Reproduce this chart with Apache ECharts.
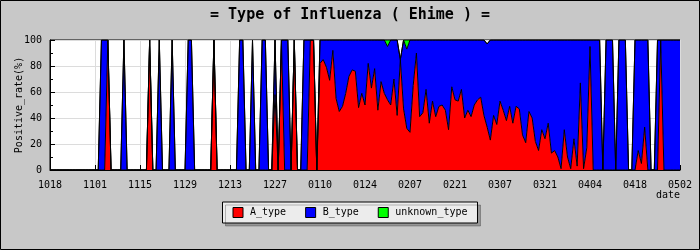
<!DOCTYPE html>
<html><head><meta charset="utf-8">
<script src="https://cdn.jsdelivr.net/npm/echarts@6/dist/echarts.min.js"></script>
<style>html,body{margin:0;padding:0;background:#c8c8c8}#c{width:700px;height:250px}</style>
</head><body><div id="c"></div>
<script>
// categories: one per day, 1018 .. 0502 (labels MMDD)
const startDay = Date.UTC(2010, 9, 18);
const dayCount = 197;
const dates = [];
for (let i = 0; i < dayCount; i++) {
  const d = new Date(startDay + i * 86400000);
  dates.push(String(d.getUTCMonth() + 1).padStart(2, '0') + String(d.getUTCDate()).padStart(2, '0'));
}
const yTicks = [0, 20, 40, 60, 80, 100];

const A_type = [
  0,0,0,0,0,0,0,0,0,0,0,0,0,0,
  0,0,0,0,100,0,0,0,0,0,0,0,0,0,
  0,0,0,100,0,0,0,0,0,0,0,0,0,0,
  0,0,0,0,0,0,0,0,0,100,0,0,0,0,
  0,0,0,0,0,0,0,0,0,0,0,0,0,0,
  58,0,100,0,0,0,100,0,0,0,0,100,100,0,
  82,85,79,69,92,55,45,49,59,72,77,76,48,59,
  50,82,63,78,46,68,59,54,50,70,42,85,47,32,
  29,65,90,41,44,62,36,53,41,49,50,46,31,64,
  54,53,62,40,46,41,50,54,56,42,33,23,42,35,
  53,46,38,49,36,49,47,27,21,45,40,22,15,31,
  24,36,13,15,10,1,31,10,1,24,3,67,1,17,
  95,0,0,0,0,0,0,0,0,0,0,0,0,0,
  0,15,5,33,0,0,0,0,100,0,0,0,0,0,
  0
];
const B_type = [
  0,0,0,0,0,0,0,0,0,0,0,0,0,0,
  0,0,100,100,0,0,0,0,0,100,0,0,0,0,
  0,0,0,0,0,0,100,0,0,0,100,0,0,0,
  0,100,100,0,0,0,0,0,0,0,0,0,0,0,
  0,0,0,100,100,0,0,100,0,0,100,100,0,0,
  42,0,0,100,100,0,0,0,0,100,100,0,0,0,
  18,15,21,31,8,45,55,51,41,28,23,24,52,41,
  50,18,37,22,54,32,41,41,50,30,58,0,53,61,
  71,35,10,59,56,38,64,47,59,51,50,54,69,36,
  46,47,38,60,54,59,50,46,44,58,64,77,58,65,
  47,54,62,51,64,51,53,73,79,55,60,78,85,69,
  76,64,87,85,90,99,69,90,99,76,97,33,99,83,
  5,100,100,100,0,100,100,100,0,100,100,100,0,0,
  100,85,95,67,100,0,0,100,0,100,100,100,100,100,
  100
];
const unknown_type = [
  0,0,0,0,0,0,0,0,0,0,0,0,0,0,
  0,0,0,0,0,0,0,0,0,0,0,0,0,0,
  0,0,0,0,0,0,0,0,0,0,0,0,0,0,
  0,0,0,0,0,0,0,0,0,0,0,0,0,0,
  0,0,0,0,0,0,0,0,0,0,0,0,0,0,
  0,0,0,0,0,0,0,0,0,0,0,0,0,0,
  0,0,0,0,0,0,0,0,0,0,0,0,0,0,
  0,0,0,0,0,0,0,5,0,0,0,0,0,7,
  0,0,0,0,0,0,0,0,0,0,0,0,0,0,
  0,0,0,0,0,0,0,0,0,0,0,0,0,0,
  0,0,0,0,0,0,0,0,0,0,0,0,0,0,
  0,0,0,0,0,0,0,0,0,0,0,0,0,0,
  0,0,0,0,0,0,0,0,0,0,0,0,0,0,
  0,0,0,0,0,0,0,0,0,0,0,0,0,0,
  0
];

const FONT = 'DejaVu Sans Mono';
function mk(name, data, color) {
  return {
    name: name, type: 'line', stack: 'total', data: data,
    symbol: 'none', showSymbol: false,
    lineStyle: { color: '#000', width: 1 },
    itemStyle: { color: color },
    areaStyle: { color: color, opacity: 1 },
    emphasis: { disabled: true }
  };
}
const chart = echarts.init(document.getElementById('c'), null, { renderer: 'canvas' });
chart.setOption({
  backgroundColor: '#c8c8c8',
  animation: false,
  title: {
    text: '= Type of Influenza ( Ehime ) =', left: 'center', top: 3,
    textStyle: { fontFamily: FONT, fontSize: 15, fontWeight: 'bold', color: '#000' }
  },
  legend: {
    data: [{ name: 'A_type', icon: 'rect' }, { name: 'B_type', icon: 'rect' }, { name: 'unknown_type', icon: 'rect' }],
    left: 'center', top: 202, itemWidth: 10, itemHeight: 10, itemGap: 19,
    padding: [5, 10, 5, 10],
    backgroundColor: '#ececec', borderColor: '#000', borderWidth: 1,
    shadowColor: 'rgba(0,0,0,0.25)', shadowOffsetX: 3, shadowOffsetY: 3, shadowBlur: 0,
    textStyle: { fontFamily: FONT, fontSize: 10, color: '#000', padding: [0, 0, 0, 2] },
    itemStyle: { borderColor: '#000', borderWidth: 1 }
  },
  grid: { left: 50, right: 20, top: 40, bottom: 80, show: true, backgroundColor: '#fff', borderColor: '#000', borderWidth: 1 },
  xAxis: {
    type: 'category', data: dates, boundaryGap: false,
    axisLine: { lineStyle: { color: '#000' } },
    axisTick: { inside: true, length: 5, interval: 13, lineStyle: { color: '#000' } },
    axisLabel: { interval: 13, margin: 10, fontFamily: FONT, fontSize: 10, color: '#000' },
    splitLine: { show: true, interval: 13, lineStyle: { color: '#dcdcdc' } },
    name: 'date', nameLocation: 'end', nameGap: 0, nameMoveOverlap: false,
    nameTextStyle: { fontFamily: FONT, fontSize: 10, color: '#000', align: 'right', verticalAlign: 'top', padding: [20, 0, 0, 0] }
  },
  yAxis: {
    type: 'value', min: yTicks[0], max: yTicks[yTicks.length - 1], interval: 20,
    axisLine: { show: true, lineStyle: { color: '#000' } },
    axisTick: { show: true, inside: true, length: 5, lineStyle: { color: '#000' } },
    minorTick: { show: true, splitNumber: 2, length: 3, lineStyle: { color: '#000' } },
    axisLabel: { fontFamily: FONT, fontSize: 10, color: '#000', margin: 8 },
    splitLine: { show: true, lineStyle: { color: '#dcdcdc' } },
    name: 'Positive_rate(%)', nameLocation: 'middle', nameGap: 26, nameMoveOverlap: false,
    nameTextStyle: { fontFamily: FONT, fontSize: 10, color: '#000' }
  },
  graphic: [{
    type: 'rect', silent: true, z: 100,
    shape: { x: 0.5, y: 0.5, width: 699, height: 249 },
    style: { fill: 'none', stroke: '#000', lineWidth: 1 }
  }],
  series: [
    mk('A_type', A_type, '#ff0000'),
    mk('B_type', B_type, '#0000ff'),
    mk('unknown_type', unknown_type, '#00ff00')
  ]
});
</script>
</body></html>
